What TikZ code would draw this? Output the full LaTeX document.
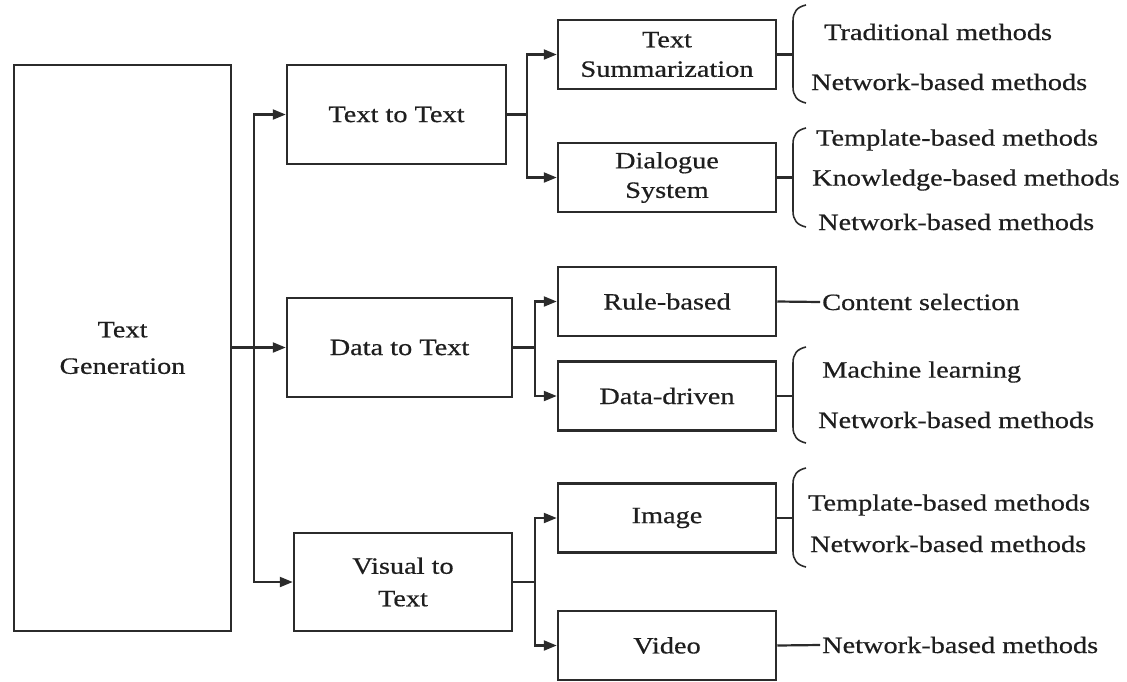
\documentclass[tikz,border=0pt]{standalone}
\usepackage{fontspec}
\setmainfont{Liberation Serif}[FakeStretch=1.21,FakeBold=0.6]
\usetikzlibrary{arrows.meta}
\definecolor{ln}{HTML}{2B2B2B}
\definecolor{tx}{HTML}{1E1E1E}
\newcommand{\labelsz}{\fontsize{23.4}{29.5}\selectfont}
\begin{document}
\begin{tikzpicture}[x=1pt,y=-1pt,
  box/.style={draw=ln, line width=2.5pt, inner sep=0pt, align=center, font=\labelsz, text=tx},
  conn/.style={draw=ln, line width=2.2pt},
  arr/.style={conn, -{Triangle[length=13pt,width=10pt]}},
  arrs/.style={conn, {Triangle[length=13pt,width=10pt]}-{Triangle[length=13pt,width=10pt]}},
  brace/.style={draw=ln, line width=1.6pt},
  lbl/.style={anchor=west, inner sep=0pt, font=\labelsz, text=tx}]
\useasboundingbox (0,0) rectangle (1127,681);

% main boxes
\node[box, minimum width=217pt, minimum height=566pt] (gen) at (122.5,348) {Text\\[7pt]Generation};
\node[box, minimum width=219pt, minimum height=99pt] (t2t) at (396.5,114.5) {Text to Text};
\node[box, minimum width=225pt, minimum height=99pt] (d2t) at (399.5,347.5) {Data to Text};
\node[box, minimum width=218pt, minimum height=98pt] (v2t) at (403,582) {Visual to\\[3pt]Text};

% sub boxes
\node[box, minimum width=218pt, minimum height=69pt] (summ) at (667,54.5) {Text\\Summarization};
\node[box, minimum width=218pt, minimum height=69pt] (dial) at (667,177.5) {Dialogue\\System};
\node[box, minimum width=218pt, minimum height=69pt] (rule) at (667,301.5) {Rule-based};
\node[box, minimum width=218pt, minimum height=69pt] (ddrv) at (667,396) {Data-driven};
\node[box, minimum width=218pt, minimum height=69pt] (img) at (667,518) {Image};
\node[box, minimum width=218pt, minimum height=69pt] (vid) at (667,645.5) {Video};

% method labels
\node[lbl] (s1) at (824,32) {Traditional methods};
\node[lbl] (s2) at (811,82) {Network-based methods};
\node[lbl] (d1) at (816,140) {Template-based methods};
\node[lbl] (d2) at (812,180) {Knowledge-based methods};
\node[lbl] (d3) at (818,222) {Network-based methods};
\node[lbl] (r1) at (822,302) {Content selection};
\node[lbl] (m1) at (822,372) {Machine learning};
\node[lbl] (m2) at (818,420) {Network-based methods};
\node[lbl] (i1) at (808,505) {Template-based methods};
\node[lbl] (i2) at (810,544) {Network-based methods};
\node[lbl] (v1) at (822,645) {Network-based methods};

% junction columns
\coordinate (tk) at (254,0);
\coordinate (j1) at (527,0);
\coordinate (j2) at (535,0);
\coordinate (j3) at (535,0);
\coordinate (bx) at (793,0);

% first level
\draw[arr] (gen.east |- d2t.west) -- (d2t.west);
\draw[arrs] (t2t.west) -- (tk |- t2t.west) |- (v2t.west);

% second level
\draw[conn] (t2t.east) -- (j1 |- t2t.east);
\draw[arrs] (summ.west) -- (j1 |- summ.west) |- (dial.west);
\draw[conn] (d2t.east) -- (j2 |- d2t.east);
\draw[arrs] (rule.west) -- (j2 |- rule.west) |- (ddrv.west);
\draw[conn] (v2t.east) -- (j3 |- v2t.east);
\draw[arrs] (img.west) -- (j3 |- img.west) |- (vid.west);

% single leaves
\draw[conn] (rule.east) -- ([xshift=-2pt]r1.west);
\draw[conn] (vid.east) -- ([xshift=-2pt]v1.west);

% braces
\draw[conn] (summ.east) -- (bx |- summ.east);
\draw[brace] (806,5) .. controls (797,7) and (793,12) .. (793,21) -- (793,87) .. controls (793,96) and (797,101) .. (806,103);
\draw[conn] (dial.east) -- (bx |- dial.east);
\draw[brace] (806,128) .. controls (797,130) and (793,135) .. (793,144) -- (793,211) .. controls (793,220) and (797,225) .. (806,227);
\draw[conn] (ddrv.east) -- (bx |- ddrv.east);
\draw[brace] (806,347) .. controls (797,349) and (793,354) .. (793,363) -- (793,427) .. controls (793,436) and (797,441) .. (806,443);
\draw[conn] (img.east) -- (bx |- img.east);
\draw[brace] (806,468) .. controls (797,470) and (793,475) .. (793,484) -- (793,551) .. controls (793,560) and (797,565) .. (806,567);
\end{tikzpicture}
\end{document}
